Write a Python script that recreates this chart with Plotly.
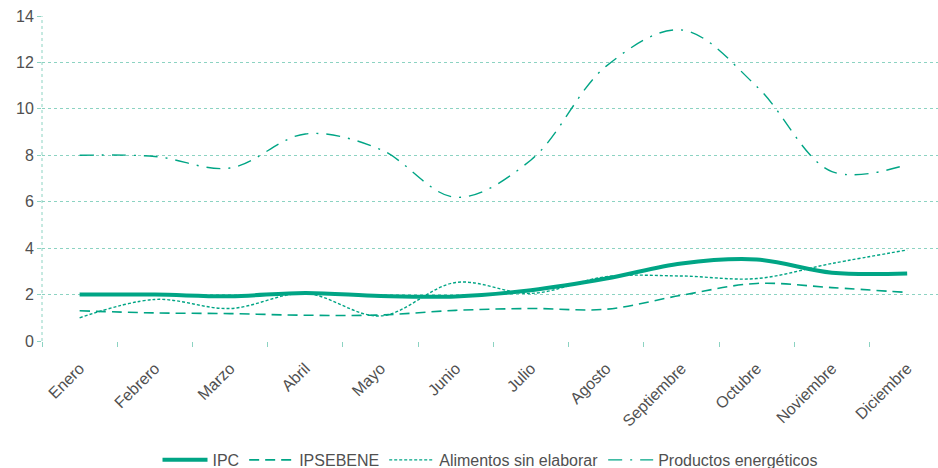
import plotly.graph_objects as go

months = ["Enero", "Febrero", "Marzo", "Abril", "Mayo", "Junio", "Julio",
          "Agosto", "Septiembre", "Octubre", "Noviembre", "Diciembre"]
ipc = [2.0, 2.0, 1.93, 2.07, 1.94, 1.92, 2.19, 2.69, 3.34, 3.51, 2.94, 2.91]
ipsebene = [1.3, 1.21, 1.18, 1.11, 1.12, 1.32, 1.4, 1.37, 1.97, 2.48, 2.3, 2.09]
alimentos = [1.0, 1.79, 1.4, 2.05, 1.08, 2.52, 2.05, 2.77, 2.8, 2.69, 3.34, 3.92]
energeticos = [8.0, 7.95, 7.45, 8.92, 8.25, 6.19, 7.8, 11.84, 13.4, 10.97, 7.3, 7.6]
y_ticks = [0, 2, 4, 6, 8, 10, 12, 14]

color = "#00a585"
grid = "#8cd3c2"
font = "Liberation Sans"
txt = "#505050"

fig = go.Figure()
series = [
    ("IPC", ipc, 4, "solid"),
    ("IPSEBENE", ipsebene, 1.6, "10px,6px"),
    ("Alimentos sin elaborar", alimentos, 1.4, "3px,2px"),
    ("Productos energéticos", energeticos, 1.4, "14px,8px,2px,8px"),
]
for name, vals, w, dash in series:
    fig.add_trace(go.Scatter(
        x=months, y=vals, name=name, mode="lines",
        line=dict(color=color, width=w, dash=dash, shape="spline", smoothing=1.0),
    ))

fig.update_layout(
    width=938, height=468,
    margin=dict(l=42, r=0, t=16, b=127, autoexpand=False),
    paper_bgcolor="white", plot_bgcolor="white",
    font=dict(family=font, size=16, color=txt),
    showlegend=True,
    legend=dict(orientation="h", x=0.5, xanchor="center", y=-0.366, yanchor="middle",
                font=dict(family=font, size=16, color=txt),
                itemwidth=45, tracegroupgap=0),
    xaxis=dict(
        type="category", range=[-0.5, 11.41], automargin=False,
        showgrid=False, zeroline=False, showline=False,
        ticks="outside", tickson="boundaries", ticklen=5, tickcolor=grid,
        tickangle=-45, ticklabelstandoff=14,
        tickfont=dict(family=font, size=16, color=txt),
    ),
    yaxis=dict(
        range=[0, 14], tickvals=y_ticks, showgrid=True, gridcolor=grid,
        griddash="dot", gridwidth=1, zeroline=False, showline=False, automargin=False,
        ticks="outside", ticklen=4, tickcolor=grid, ticklabeloverflow="allow",
        tickfont=dict(family=font, size=16, color=txt),
    ),
    shapes=[
        dict(type="line", xref="paper", yref="paper", x0=0, x1=0, y0=0, y1=1,
             line=dict(color=grid, width=1, dash="dot"), layer="below"),
    ],
)

fig.write_html("out.html", config={"displayModeBar": False},
               post_script="document.body.style.margin='0';document.body.style.overflow='hidden';")
